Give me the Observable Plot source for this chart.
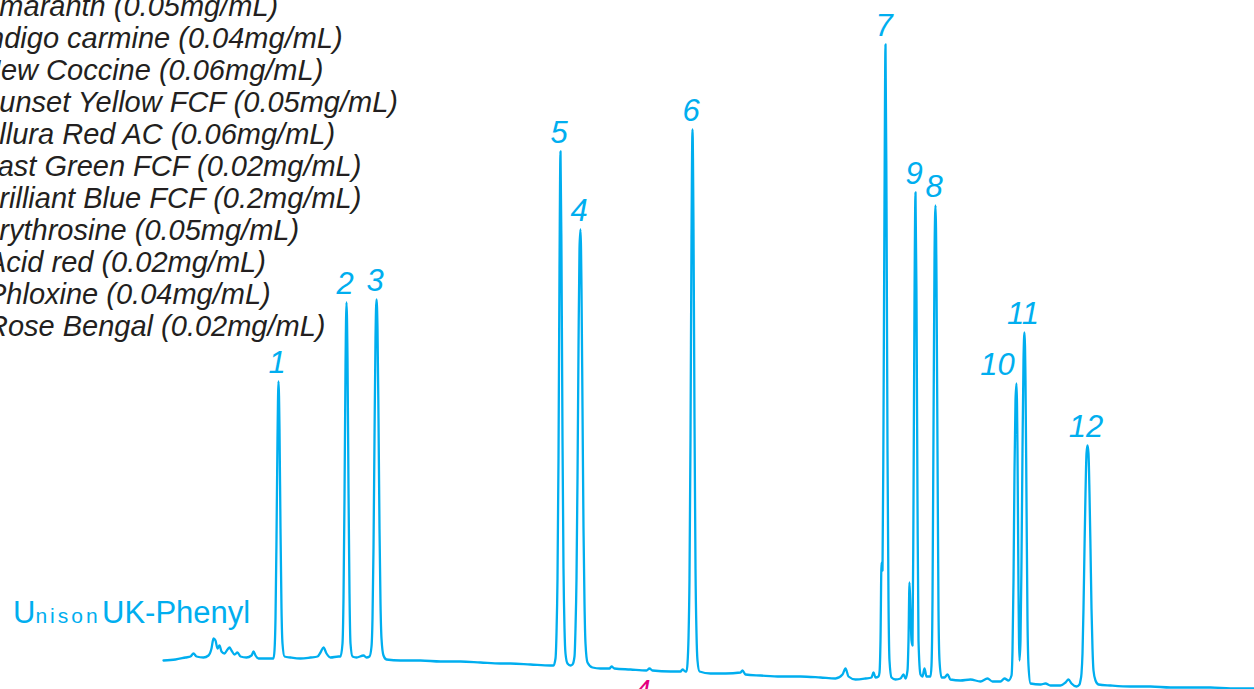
<!DOCTYPE html>
<html>
<head>
<meta charset="utf-8">
<script src="https://cdn.jsdelivr.net/npm/d3@7"></script>
<script src="https://cdn.jsdelivr.net/npm/@observablehq/plot@0.6"></script>
<style>
  html, body { margin: 0; padding: 0; background: #fff; }
  #wrap { position: relative; width: 1254px; height: 689px; overflow: hidden; }
  #wrap svg { position: absolute; left: 0; top: 0; }
  #legend { position: absolute; left: 0; top: -10px; font-family: "Liberation Sans", Arial, sans-serif;
            font-style: italic; font-size: 29px; line-height: 32px; color: #231f20; white-space: nowrap; }
  .col { position: absolute; top: 597px; white-space: nowrap; color: #00aeef;
         font-family: "Liberation Sans", Arial, sans-serif; font-size: 31px; line-height: 31px; }
  #brand { left: 13px; }
  #brand .u { font-family: "Liberation Sans Narrow", "Liberation Sans", sans-serif; font-weight: 300; }
  #brand .nison { font-family: "Liberation Sans Narrow", "Liberation Sans", sans-serif; font-size: 21px; letter-spacing: 3px; }
  #phase { left: 102px; }
  #mark { position: absolute; left: 635px; top: 676px; font-family: "Liberation Sans", Arial, sans-serif;
          font-style: italic; font-size: 28px; line-height: 28px; color: #e4007f; }
</style>
</head>
<body>
<div id="wrap"></div>
<script>
// Compound list (legend)
const compoundNames = ["Amaranth", "Indigo carmine", "New Coccine", "Sunset Yellow FCF", "Allura Red AC",
  "Fast Green FCF", "Brilliant Blue FCF", "Erythrosine", "Acid red", "Phloxine", "Rose Bengal"];
const concentrations = ["0.05mg/mL", "0.04mg/mL", "0.06mg/mL", "0.05mg/mL", "0.06mg/mL",
  "0.02mg/mL", "0.2mg/mL", "0.05mg/mL", "0.02mg/mL", "0.04mg/mL", "0.02mg/mL"];
const brandName = "Unison";
const columnName = "UK-Phenyl";

// Peak annotations
const peakNumber = [1, 2, 3, 4, 5, 6, 7, 8, 9, 10, 11, 12];
const peakTime   = [1.15, 1.83, 2.13, 4.17, 3.97, 5.29, 7.22, 7.72, 7.52, 8.53, 8.61, 9.24];
const peakHeight = [307, 386, 389, 459, 537, 559, 644, 483, 496, 305, 356, 243];

// Chromatogram trace (time, signal)
const traceTime = [0.00,0.12,0.22,0.27,0.30,0.33,0.40,0.45,0.48,0.50,0.52,0.54,0.56,0.58,0.61,0.64,0.66,0.68,0.71,0.74,0.77,0.83,0.88,0.90,0.92,0.95,1.05,
  1.10,1.11,1.12,1.13,1.14,1.15,1.16,1.17,1.18,1.19,1.21,1.27,1.37,1.47,1.54,1.57,1.60,1.63,1.67,1.75,
  1.77,1.79,1.80,1.81,1.82,1.83,1.84,1.85,1.86,1.87,1.89,1.93,2.00,2.03,
  2.06,2.08,2.09,2.10,2.11,2.12,2.13,2.14,2.15,2.16,2.17,2.18,2.20,2.23,
  2.37,2.57,2.77,2.97,3.17,3.37,3.47,3.67,3.87,
  3.90,3.92,3.93,3.94,3.95,3.96,3.97,3.98,3.99,4.00,4.01,4.02,4.04,4.07,
  4.09,4.11,4.12,4.13,4.14,4.15,4.16,4.17,4.18,4.19,4.20,4.21,4.22,4.24,
  4.29,4.37,4.46,4.48,4.51,4.67,4.83,4.86,4.89,5.07,5.17,5.19,5.22,
  5.23,5.24,5.25,5.26,5.27,5.28,5.29,5.30,5.31,5.32,5.33,5.34,5.36,
  5.47,5.62,5.77,5.79,5.82,5.97,6.17,6.37,6.57,6.72,6.79,6.82,6.85,6.92,7.02,7.08,7.10,7.12,7.15,
  7.16,7.17,7.18,7.19,7.20,7.21,7.22,7.23,7.24,7.25,7.26,7.28,
  7.32,7.37,7.40,7.42,7.44,7.45,7.46,7.47,7.48,7.49,7.50,7.51,7.52,7.53,7.54,7.55,7.57,7.59,7.61,7.63,
  7.67,7.68,7.69,7.70,7.71,7.72,7.73,7.74,7.75,7.76,7.78,7.81,7.84,7.87,7.97,8.07,8.17,8.24,8.29,8.37,8.41,8.45,
  8.48,8.49,8.50,8.51,8.52,8.53,8.54,8.55,8.56,8.57,8.58,8.59,8.60,8.61,8.62,8.63,8.64,8.65,8.67,
  8.77,8.82,8.87,8.97,9.02,9.05,9.08,9.13,9.16,
  9.17,9.18,9.19,9.20,9.21,9.22,9.23,9.24,9.25,9.26,9.27,9.28,9.29,9.30,9.32,9.35,
  9.47,9.67,9.87,10.07,10.27,10.47,10.67,10.91];
const traceSignal = [28,29,31,32,35,32,31,33,40,50,48,40,43,37,35,39,41,38,34,36,32,31,33,37,33,30,30,
  30,38,70,150,250,307,260,160,80,45,32,31,30,31,32,36,41,35,31,32,
  32,45,90,190,320,386,330,200,95,45,32,31,33,31,
  32,42,70,140,250,350,389,360,270,160,85,50,33,29,
  28,28,27,27,26,25,25,24,23,
  23,30,55,110,230,420,537,430,250,120,60,35,25,23,
  24,32,60,110,210,340,440,459,400,280,160,85,45,26,
  21,20,20,22,20,19,18,20,18,17,17,19,17,
  17,25,50,110,250,450,559,460,270,120,55,28,17,
  15,15,16,18,14,13,12,12,11,10,14,20,12,9,10,11,16,11,12,
  16,48,126,118,268,488,644,488,238,88,28,11,
  9,10,14,10,18,48,106,78,48,43,188,388,496,388,188,48,14,12,20,12,
  12,23,88,258,428,483,408,238,78,28,11,11,14,9,8,9,7,10,7,7,10,8,
  13,38,108,218,288,305,238,98,28,48,128,238,328,356,308,188,68,23,5,
  4,5,3,3,6,9,5,2,4,
  8,15,35,80,140,195,235,243,235,195,140,80,40,18,8,4,
  3,2,2,1,1,1,0,0];

const trace = traceTime.map((t, i) => ({t, v: traceSignal[i]}));
const peaks = peakNumber.map((n, i) => ({n, t: peakTime[i], h: peakHeight[i]}));

const cyan = "#00aeef";
const labelStyle = {
  x: "t", y: "h", text: d => String(d.n), dy: -9,
  textAnchor: "middle", lineAnchor: "bottom",
  fontSize: 31, fontStyle: "italic", fontFamily: "Liberation Sans, Arial, sans-serif", fill: cyan
};

const chart = Plot.plot({
  width: 1254, height: 689,
  marginLeft: 163, marginRight: 0, marginTop: 38, marginBottom: 1,
  x: {domain: [0, 10.91], axis: null},
  y: {domain: [0, 650], axis: null},
  style: {background: "transparent", overflow: "visible"},
  marks: [
    Plot.line(trace, {x: "t", y: "v", stroke: cyan, strokeWidth: 2.3, curve: "monotone-x"}),
    Plot.text(peaks.filter(d => d.n !== 10), {...labelStyle, dx: -1.5}),
    Plot.text(peaks.filter(d => d.n === 10), {...labelStyle, dx: -19})
  ]
});

const wrap = document.getElementById("wrap");
wrap.appendChild(chart);

const legend = document.createElement("div");
legend.id = "legend";
compoundNames.forEach((name, i) => {
  const line = document.createElement("div");
  line.textContent = `${name} (${concentrations[i]})`;
  line.style.marginLeft = (i >= 8 ? -13 : -20) + "px";
  legend.appendChild(line);
});
wrap.appendChild(legend);

const brand = document.createElement("div");
brand.id = "brand";
brand.className = "col";
const u = document.createElement("span"); u.className = "u"; u.textContent = brandName[0];
const rest = document.createElement("span"); rest.className = "nison"; rest.textContent = brandName.slice(1);
brand.append(u, rest);
wrap.appendChild(brand);

const phase = document.createElement("div");
phase.id = "phase";
phase.className = "col";
phase.textContent = columnName;
wrap.appendChild(phase);

const mark = document.createElement("div");
mark.id = "mark";
mark.textContent = "4";
wrap.appendChild(mark);
</script>
</body>
</html>
